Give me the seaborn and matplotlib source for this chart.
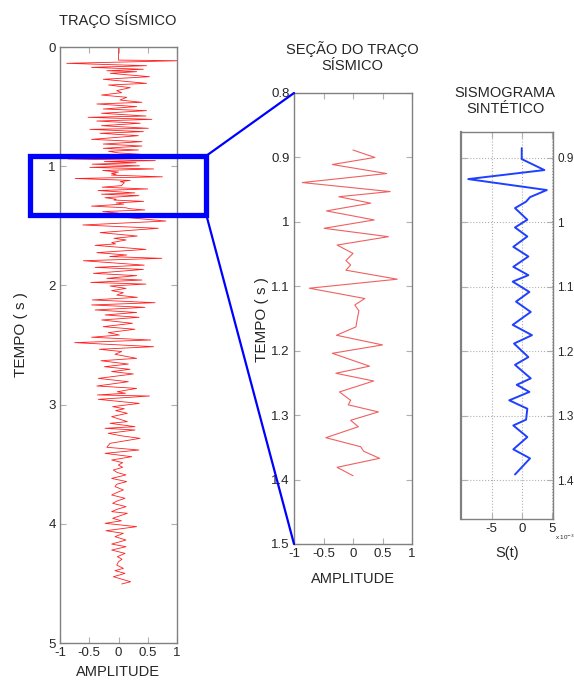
import numpy as np
import pandas as pd
import matplotlib
matplotlib.use("Agg")
import matplotlib.pyplot as plt
from matplotlib.patches import Rectangle, ConnectionPatch
from matplotlib.ticker import FuncFormatter
import seaborn as sns

# ---------------- data ----------------
trace_time = [
    0.0, 0.11, 0.115, 0.137, 0.157, 0.171, 0.187, 0.199, 0.207, 0.221, 0.249, 0.271,
    0.305, 0.319, 0.341, 0.366, 0.383, 0.403, 0.422, 0.445, 0.464, 0.478, 0.50, 0.52,
    0.534, 0.556, 0.579, 0.590, 0.607, 0.621, 0.64, 0.66, 0.682, 0.691, 0.71, 0.724,
    0.744, 0.775, 0.794, 0.814, 0.831, 0.85, 0.864, 0.875,
    0.8885, 0.900, 0.911, 0.925, 0.939, 0.953, 0.961, 0.971, 0.983, 0.997, 1.010, 1.023,
    1.036, 1.049, 1.060, 1.067, 1.075, 1.089, 1.103, 1.119, 1.129, 1.138, 1.152, 1.163,
    1.176, 1.191, 1.204, 1.224, 1.235, 1.247, 1.264, 1.277, 1.284, 1.295, 1.308, 1.318,
    1.335, 1.349, 1.356, 1.367, 1.381, 1.394,
    1.409, 1.460, 1.493, 1.521, 1.557, 1.586, 1.605, 1.619, 1.641, 1.652, 1.664, 1.698,
    1.725, 1.745, 1.758, 1.773, 1.793, 1.83, 1.849, 1.866, 1.899, 1.918, 1.941, 1.955,
    1.975, 1.989, 2.005, 2.025, 2.044, 2.061, 2.081, 2.1, 2.122, 2.145, 2.164, 2.184,
    2.206, 2.227, 2.248, 2.268, 2.29, 2.318, 2.346, 2.368, 2.396, 2.416, 2.435, 2.458,
    2.48, 2.514, 2.536, 2.555, 2.578, 2.612, 2.632, 2.66, 2.682, 2.704, 2.723, 2.743,
    2.780, 2.808, 2.844, 2.864, 2.892, 2.905, 2.919, 2.928, 2.956, 2.99, 3.017, 3.035,
    3.05, 3.073, 3.101, 3.143, 3.157, 3.185, 3.199, 3.213, 3.241, 3.262, 3.283, 3.305,
    3.325, 3.358, 3.381, 3.409, 3.437, 3.465, 3.487, 3.507, 3.526, 3.549, 3.57, 3.59,
    3.619, 3.646, 3.668, 3.688, 3.716, 3.738, 3.758, 3.786, 3.808, 3.828, 3.856, 3.878,
    3.898, 3.912, 3.954, 3.975, 3.996, 4.024, 4.058, 4.08, 4.108, 4.136, 4.17, 4.192,
    4.22, 4.248, 4.276, 4.297, 4.318, 4.346, 4.374, 4.393, 4.416, 4.444, 4.486, 4.505,
]
trace_amp = [
    0.0, 0.0, 1.04, -0.885, 0.48, -0.46, 0.425, -0.20, 0.31, -0.14, 0.53, -0.26,
    0.48, -0.17, 0.20, -0.03, 0.054, -0.29, 0.14, 0.025, 0.40, -0.37, 0.31, -0.26,
    0.48, -0.29, 0.47, -0.52, 0.57, -0.37, 0.37, -0.29, 0.51, -0.49, 0.425, -0.316,
    0.34, -0.46, 0.40, -0.26, 0.40, -0.26, 0.34, -0.17,
    0.0, 0.37, -0.35, 0.57, -0.86, 0.63, -0.24, 0.30, -0.45, 0.36, -0.49, 0.60,
    -0.27, 0.0, -0.12, -0.04, -0.12, 0.75, -0.74, 0.20, 0.03, 0.10, 0.07, 0.05,
    -0.28, 0.50, -0.35, 0.28, -0.29, 0.35, -0.23, -0.04, -0.08, 0.43, -0.04, 0.09,
    -0.46, 0.13, 0.18, 0.45, -0.27, 0.0,
    -0.345, 0.81, -0.61, 0.68, -0.315, 0.32, -0.077, 0.13, -0.117, -0.05, -0.40, 0.47,
    -0.37, 0.14, -0.15, 0.74, -0.60, 0.44, -0.40, 0.425, -0.43, 0.31, -0.20, 0.40,
    -0.475, 0.47, -0.145, 0.128, -0.117, 0.083, -0.031, 0.322, -0.45, 0.625, -0.46, 0.453,
    -0.40, 0.31, -0.23, 0.35, -0.288, 0.24, -0.26, 0.28, -0.174, 0.014, -0.46, 0.55,
    -0.75, 0.60, -0.328, 0.054, -0.06, 0.31, -0.30, 0.168, -0.24, 0.197, -0.117, 0.254,
    -0.345, 0.168, -0.37, 0.31, -0.02, 0.12, -0.36, 0.53, -0.345, 0.356, -0.10, 0.10,
    -0.05, 0.151, -0.117, 0.151, -0.145, 0.282, -0.23, 0.282, -0.174, 0.05, 0.368, 0.10,
    -0.145, -0.20, 0.35, -0.23, 0.225, -0.117, 0.071, -0.003, 0.071, -0.088, -0.02, 0.128,
    -0.117, 0.14, -0.03, -0.06, 0.083, -0.03, -0.117, 0.111, -0.02, -0.10, 0.128, -0.02,
    -0.117, 0.151, -0.10, 0.05, -0.23, 0.31, -0.214, 0.083, -0.06, 0.128, -0.117, 0.128,
    -0.117, 0.111, -0.02, 0.06, 0.0, -0.03, 0.083, -0.06, 0.111, -0.088, 0.208, 0.054,
]

synth_time = [
    0.885, 0.902, 0.919, 0.933, 0.950, 0.961, 0.968, 0.978, 0.996, 1.008, 1.022, 1.038,
    1.053, 1.069, 1.082, 1.092, 1.108, 1.123, 1.139, 1.159, 1.175, 1.188, 1.209, 1.221,
    1.242, 1.252, 1.263, 1.276, 1.289, 1.306, 1.315, 1.333, 1.352, 1.366, 1.391,
]
synth_amp_e3 = [
    0.0, 0.0, 3.77, -8.9, 4.17, 1.38, 0.72, -1.12, 0.93, -1.12, 0.93, -1.4,
    1.1, -1.4, 1.1, -1.5, 1.27, -0.95, 1.5, -1.5, 1.7, -1.28, 1.1, -1.12,
    1.5, -0.83, 1.27, -2.07, 0.93, 0.72, -1.4, 0.93, -1.4, 1.38, -1.12,
]

left_yticks = [0, 1, 2, 3, 4, 5]
amp_ticks = [-1, -0.5, 0, 0.5, 1]
mid_yticks = [0.8, 0.9, 1.0, 1.1, 1.2, 1.3, 1.4, 1.5]
right_yticks = [0.9, 1.0, 1.1, 1.2, 1.3, 1.4]
right_xticks = [-5e-3, 0, 5e-3]

# ---------------- figure ----------------
sns.set_style("white")
plt.rcParams['font.family'] = ['Liberation Sans', 'DejaVu Sans']

W, H = 574, 682
fig = plt.figure(figsize=(W / 100, H / 100), dpi=100)

def ax_rect(x0, y0, x1, y1):
    return [x0 / W, 1 - y1 / H, (x1 - x0) / W, (y1 - y0) / H]

ax1 = fig.add_axes(ax_rect(60, 47, 177, 643))
ax2 = fig.add_axes(ax_rect(294, 93, 412, 544))
ax3 = fig.add_axes(ax_rect(461, 132, 553, 519))

df = pd.DataFrame({"t": trace_time, "amp": trace_amp})
sub = df[(df.t >= 0.888) & (df.t <= 1.395)]
dsyn = pd.DataFrame({"t": synth_time, "s": np.array(synth_amp_e3) * 1e-3})

sns.lineplot(data=df, x="amp", y="t", sort=False, estimator=None, ax=ax1,
             color="#ff2020", lw=0.6)
sns.lineplot(data=sub, x="amp", y="t", sort=False, estimator=None, ax=ax2,
             color="#f06060", lw=0.8)
sns.lineplot(data=dsyn, x="s", y="t", sort=False, estimator=None, ax=ax3,
             color="#2040ff", lw=1.4)

gray = "#808080"
fmt = FuncFormatter(lambda v, p: "%g" % round(v, 6))
for ax in (ax1, ax2, ax3):
    ax.set_xlabel("")
    ax.set_ylabel("")
    for s in ax.spines.values():
        s.set_color(gray)
        s.set_linewidth(1.0)
    ax.tick_params(direction="in", length=4, color="#b0b0b0", labelsize=9.5,
                   pad=3, top=True, right=True, bottom=True, left=True)

ax1.set_xlim(-1, 1)
ax1.set_ylim(5, 0)
ax1.set_xticks(amp_ticks)
ax1.set_yticks(left_yticks)
ax1.xaxis.set_major_formatter(fmt)
ax1.yaxis.set_major_formatter(fmt)

ax2.set_xlim(-1, 1)
ax2.set_ylim(1.5, 0.8)
ax2.set_xticks(amp_ticks)
ax2.set_yticks(mid_yticks)
ax2.xaxis.set_major_formatter(fmt)
ax2.yaxis.set_major_formatter(fmt)

ax3.set_xlim(-10.1e-3, 5.2e-3)
ax3.set_ylim(1.46, 0.86)
ax3.set_xticks(right_xticks)
ax3.set_yticks(right_yticks)
ax3.xaxis.set_major_formatter(FuncFormatter(lambda v, p: "%g" % round(v * 1e3, 6)))
ax3.yaxis.set_major_formatter(fmt)
ax3.yaxis.tick_right()
ax3.tick_params(axis="y", left=True, right=True, labelleft=False, labelright=True,
                pad=3, labelsize=8.5)
ax3.grid(True, linestyle=":", color="#b0b0b0", lw=0.8)
ax3.spines["left"].set_linewidth(1.6)

# zoom box and connectors
blue = "#0000ff"
ax1.add_patch(Rectangle((-1.52, 0.913), 3.02, 0.494, fill=False, ec=blue, lw=3.8,
                        clip_on=False, zorder=5))
for (ya, yb) in [(0.913, 0.8), (1.407, 1.5)]:
    cp = ConnectionPatch(xyA=(1.5, ya), coordsA=ax1.transData,
                         xyB=(-1, yb), coordsB=ax2.transData,
                         color=blue, lw=1.6, zorder=6)
    fig.add_artist(cp)

# texts
def ftext(x, y, s, **kw):
    fig.text(x / W, 1 - y / H, s, ha="center", va="center", **kw)

ftext(118, 20, "TRAÇO SÍSMICO", fontsize=10.5)
ftext(118, 672, "AMPLITUDE", fontsize=10.5)
ftext(21, 335, "TEMPO ( s )", fontsize=11, rotation=90)
ftext(352, 57, "SEÇÃO DO TRAÇO\nSÍSMICO", fontsize=10.5, linespacing=1.15)
ftext(353, 579, "AMPLITUDE", fontsize=10.5)
ftext(262, 320, "TEMPO ( s )", fontsize=11, rotation=90)
ftext(505, 101, "SISMOGRAMA\nSINTÉTICO", fontsize=10.5, linespacing=1.15)
ftext(507, 553, "S(t)", fontsize=10.5)
fig.text(555 / W, 1 - 537 / H, r"x 10$^{-3}$", fontsize=4.5, ha="left", va="center")

fig.savefig("out.png", dpi=100)
